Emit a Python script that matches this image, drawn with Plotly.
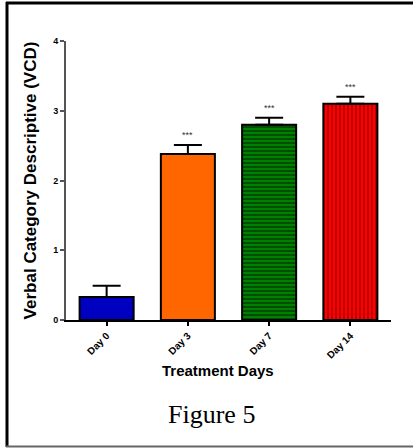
import plotly.graph_objects as go

categories = ["Day 0", "Day 3", "Day 7", "Day 14"]
values = [0.33, 2.38, 2.80, 3.10]
errors = [0.16, 0.13, 0.10, 0.10]
significance = ["", "***", "***", "***"]
y_ticks = [0, 1, 2, 3, 4]

colors = ["#0000C0", "#FF6600", "#008000", "#FF0000"]
pattern_shapes = ["", "", "-", "|"]
pattern_fg = ["#0000C0", "#FF6600", "#003800", "#A00000"]

fig = go.Figure()
for c, v, e, col, shp, fg in zip(categories, values, errors, colors, pattern_shapes, pattern_fg):
    marker = dict(color=col, line=dict(color="black", width=2))
    if shp:
        marker["pattern"] = dict(shape=shp, fgcolor=fg, bgcolor=col, fgopacity=1,
                                 size=4, solidity=0.35, fillmode="replace")
    fig.add_trace(go.Bar(
        x=[c], y=[v], width=0.665, marker=marker,
        error_y=dict(type="data", symmetric=False, array=[e], arrayminus=[0],
                     color="black", thickness=2, width=14),
        showlegend=False,
    ))

for c, v, e, s in zip(categories, values, errors, significance):
    if s:
        fig.add_annotation(x=c, y=v + e, text=s, showarrow=False, yanchor="bottom", yshift=3,
                           font=dict(family="Liberation Sans, Arial", size=9, color="#333"))

axis_font = dict(family="Liberation Sans, Arial", size=10, color="black", weight="bold")
fig.update_xaxes(range=[-0.5, 3.5], categoryorder="array", categoryarray=categories,
                 showline=True, linecolor="black", linewidth=2,
                 ticks="outside", ticklen=4, tickwidth=1.5, tickcolor="black",
                 tickangle=-45, tickfont=axis_font, showgrid=False, zeroline=False)
fig.update_yaxes(range=[0, 4], tickvals=y_ticks, showline=True, linecolor="#555", linewidth=2,
                 ticks="outside", ticklen=4, tickwidth=1.5, tickcolor="#555",
                 tickfont=dict(family="Liberation Sans, Arial", size=9, color="black", weight="bold"),
                 showgrid=False, zeroline=False,
                 title=dict(text="Verbal Category Descriptive (VCD)", standoff=12,
                            font=dict(family="Liberation Sans, Arial", size=17, color="black", weight="bold")))

fig.add_annotation(x=(218-66)/325, y=(320-370)/279, xref="paper", yref="paper",
                   text="Treatment Days", showarrow=False, yanchor="middle",
                   font=dict(family="Liberation Sans, Arial", size=15, color="black", weight="bold"))
fig.add_annotation(x=(211-66)/325, y=(320-414)/279, xref="paper", yref="paper",
                   text="Figure 5", showarrow=False, yanchor="middle",
                   font=dict(family="Liberation Serif, Times New Roman", size=26, color="black"))

# page borders
def px_x(px):
    return (px - 66) / 325
def px_y(py):
    return (320 - py) / 279

fig.add_shape(type="line", xref="paper", yref="paper", x0=px_x(6), x1=px_x(413), y0=px_y(3), y1=px_y(3),
              line=dict(color="black", width=3))
fig.add_shape(type="line", xref="paper", yref="paper", x0=px_x(7), x1=px_x(7), y0=px_y(2), y1=px_y(447),
              line=dict(color="black", width=3))
fig.add_shape(type="line", xref="paper", yref="paper", x0=px_x(6), x1=px_x(413), y0=px_y(446.5), y1=px_y(446.5),
              line=dict(color="#666", width=2))

fig.update_layout(width=413, height=448, margin=dict(l=66, r=22, t=41, b=128),
                  plot_bgcolor="white", paper_bgcolor="white", barmode="overlay")

fig.write_html("out.html", config={"displayModeBar": False},
               post_script="document.body.style.margin='0';document.body.style.overflow='hidden';")
